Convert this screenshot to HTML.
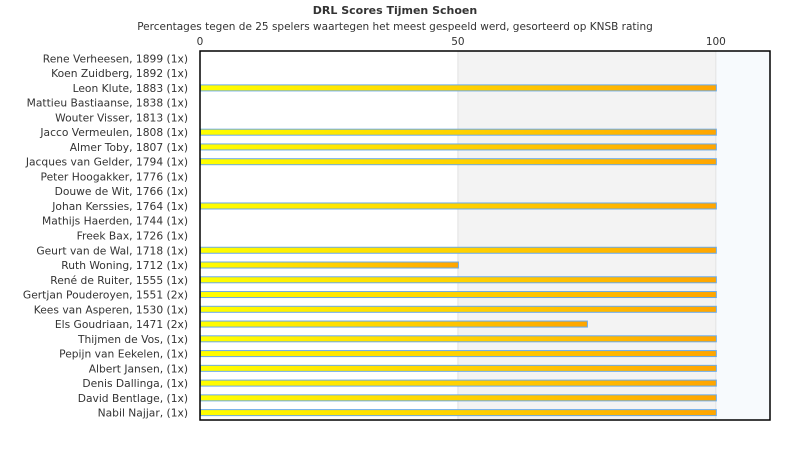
<!DOCTYPE html>
<html><head><meta charset="utf-8"><style>
body{margin:0;background:#fff;font-family:"DejaVu Sans","Liberation Sans",sans-serif}
</style></head><body>
<svg width="790" height="450" xmlns="http://www.w3.org/2000/svg">
<defs><linearGradient id="g" x1="0" x2="1" y1="0" y2="0"><stop offset="0" stop-color="#ffff00"/><stop offset="1" stop-color="#ffa500"/></linearGradient></defs>
<text x="395" y="14" text-anchor="middle" font-size="11" font-weight="bold" fill="#333">DRL Scores Tijmen Schoen</text>
<text x="395" y="30" text-anchor="middle" font-size="10.5" fill="#333">Percentages tegen de 25 spelers waartegen het meest gespeeld werd, gesorteerd op KNSB rating</text>
<g id="plot"></g>
</svg>
<script>
const players=["Rene Verheesen, 1899 (1x)","Koen Zuidberg, 1892 (1x)","Leon Klute, 1883 (1x)","Mattieu Bastiaanse, 1838 (1x)","Wouter Visser, 1813 (1x)","Jacco Vermeulen, 1808 (1x)","Almer Toby, 1807 (1x)","Jacques van Gelder, 1794 (1x)","Peter Hoogakker, 1776 (1x)","Douwe de Wit, 1766 (1x)","Johan Kerssies, 1764 (1x)","Mathijs Haerden, 1744 (1x)","Freek Bax, 1726 (1x)","Geurt van de Wal, 1718 (1x)","Ruth Woning, 1712 (1x)","René de Ruiter, 1555 (1x)","Gertjan Pouderoyen, 1551 (2x)","Kees van Asperen, 1530 (1x)","Els Goudriaan, 1471 (2x)","Thijmen de Vos,  (1x)","Pepijn van Eekelen,  (1x)","Albert Jansen,  (1x)","Denis Dallinga,  (1x)","David Bentlage,  (1x)","Nabil Najjar,  (1x)"];
const scores=[0,0,100,0,0,100,100,100,0,0,100,0,0,100,50,100,100,100,75,100,100,100,100,100,100];
const ticks=[0,50,100];
const L=200,R=770,T=51,B=420,vmax=110.5;
const x=v=>L+(v/vmax)*(R-L);
const rowH=(B-T)/players.length;
const y=i=>T+rowH*(i+0.5);
const NS="http://www.w3.org/2000/svg",g=document.getElementById('plot');
function mk(t,a){const e=document.createElementNS(NS,t);for(const k in a)e.setAttribute(k,a[k]);g.appendChild(e);return e;}
let e;
e=mk('rect',{x:x(50),y:T,width:x(100)-x(50),height:B-T,fill:'#f3f3f3'});


e=mk('rect',{x:x(100),y:T,width:R-x(100),height:B-T,fill:'#f7fafd'});


ticks.forEach(t=>{
 if(t>0){e=mk('line',{x1:x(t),x2:x(t),y1:T,y2:B,stroke:'#e2e2e2'});
 
 }
 e=mk('text',{x:x(t),y:T-6,'text-anchor':'middle','font-size':10.5,fill:'#333'});e.textContent=t;
 
 
});
players.forEach((p,i)=>{
 e=mk('text',{x:188,y:y(i)+4,'text-anchor':'end','font-size':10.7,fill:'#333'});e.textContent=p;
 
 
 if(scores[i]>0){
  e=mk('rect',{x:L+0.5,y:y(i)-3,width:x(scores[i])-L,height:6,fill:'url(#g)',stroke:'#6aaae8','stroke-width':1});
  
  
 }
});
e=mk('rect',{x:L,y:T,width:R-L,height:B-T,fill:'none',stroke:'#000','stroke-width':1.5});


</script>
</body></html>
